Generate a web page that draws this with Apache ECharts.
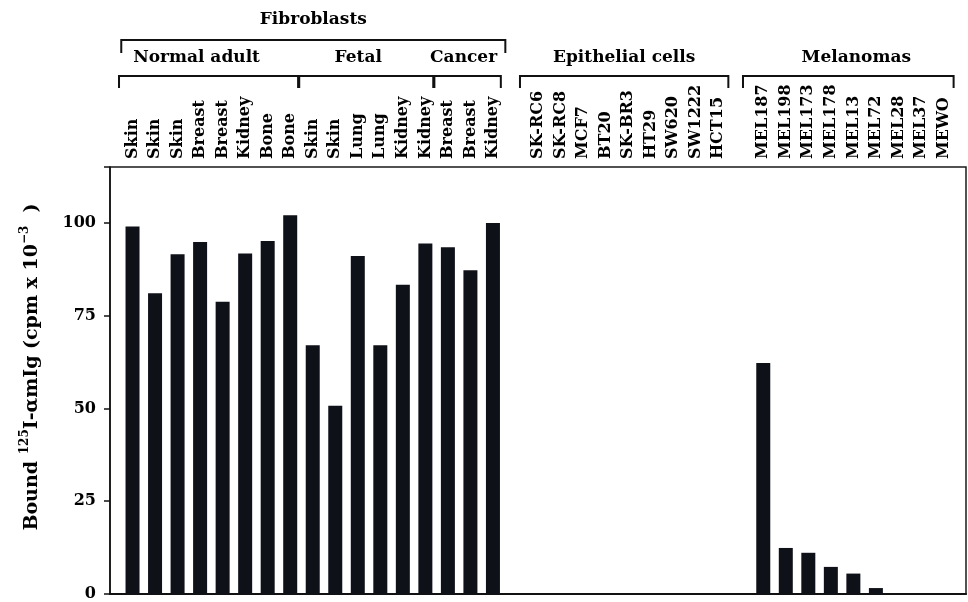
<!DOCTYPE html>
<html>
<head>
<meta charset="utf-8">
<script src="https://cdn.jsdelivr.net/npm/echarts@6/dist/echarts.min.js"></script>
<style>html,body{margin:0;padding:0;background:#fff;}#main{width:968px;height:602px;}</style>
</head>
<body>
<div id="main"></div>
<script>
// ---- data ----
const fibroNames = ['Skin','Skin','Skin','Breast','Breast','Kidney','Bone','Bone','Skin','Skin','Lung','Lung','Kidney','Kidney','Breast','Breast','Kidney'];
const fibroValues = [99, 81, 91.5, 94.8, 78.7, 91.7, 95.1, 102, 67, 50.7, 91, 67, 83.3, 94.4, 93.4, 87.2, 99.9];
const fibroSubgroups = [['Normal adult', 8], ['Fetal', 6], ['Cancer', 3]];
const epiNames = ['SK-RC6','SK-RC8','MCF7','BT20','SK-BR3','HT29','SW620','SW1222','HCT15'];
const epiValues = [0, 0, 0, 0, 0, 0, 0, 0, 0];
const melNames = ['MEL187','MEL198','MEL173','MEL178','MEL13','MEL72','MEL28','MEL37','MEWO'];
const melValues = [62.2, 12.4, 11.1, 7.3, 5.5, 1.6, 0, 0, 0];
const yTicks = [0, 25, 50, 75, 100];
const groupTitles = ['Fibroblasts', 'Epithelial cells', 'Melanomas'];

// ---- build slots (one empty slot between groups and at both ends) ----
const names = [''];
const barData = [];
const groupRanges = [];
[[fibroNames, fibroValues], [epiNames, epiValues], [melNames, melValues]].forEach(([ns, vs]) => {
  const start = names.length;
  ns.forEach((n, i) => { barData.push([names.length, vs[i]]); names.push(n); });
  groupRanges.push([start, names.length - 1]);
  names.push('');
});
const xMax = names.length - 1;

const FONT = 'DejaVu Serif';
const chart = echarts.init(document.getElementById('main'));
chart.setOption({
  animation: false,
  backgroundColor: '#fff',
  grid: { left: 110, right: 2, top: 167, bottom: 5, show: true, borderColor: '#1a1a1a', borderWidth: 1.5, containLabel: false },
  xAxis: [
    { type: 'value', position: 'bottom', min: 0, max: xMax, interval: 1,
      axisLine: { show: true, lineStyle: { color: '#111', width: 2 } },
      axisTick: { show: false }, axisLabel: { show: false }, splitLine: { show: false } },
    { type: 'value', position: 'top', min: 0, max: xMax, interval: 1,
      axisLine: { show: false }, axisTick: { show: false }, splitLine: { show: false },
      axisLabel: { show: true, rotate: -90, margin: 8, color: '#000', fontFamily: FONT, fontWeight: 'bold', fontSize: 16,
        formatter: v => names[Math.round(v)] || '' } }
  ],
  yAxis: {
    type: 'value', min: 0, max: 115, interval: 25,
    axisLine: { show: true, lineStyle: { color: '#111', width: 1.5 } },
    axisTick: { show: true, length: 6, lineStyle: { color: '#111', width: 1.5 } },
    splitLine: { show: false },
    axisLabel: { color: '#000', fontFamily: FONT, fontWeight: 'bold', fontSize: 16, margin: 14,
      formatter: v => yTicks.indexOf(v) >= 0 ? String(v) : '' }
  },
  series: [{
    type: 'bar', xAxisIndex: 0, yAxisIndex: 0, data: barData, barWidth: 14,
    itemStyle: { color: '#0f1119' }
  }]
});

// ---- brackets & group titles via axis conversion ----
function px(v) { return chart.convertToPixel({ xAxisIndex: 0 }, v); }
const graphics = [];
function bracket(x0, x1, yLine, yLeg, label, yText, textShift) {
  graphics.push({ type: 'polyline', silent: true,
    shape: { points: [[x0, yLeg], [x0, yLine], [x1, yLine], [x1, yLeg]] },
    style: { stroke: '#111', lineWidth: 2, fill: null } });
  graphics.push({ type: 'text', silent: true, x: (x0 + x1) / 2 + (textShift || 0), y: yText,
    style: { text: label, fill: '#000', font: 'bold 17px "' + FONT + '"', textAlign: 'center', textVerticalAlign: 'middle' } });
}
const L0 = -0.6, L1 = 0.45;
const fr = groupRanges[0];
bracket(px(fr[0] + L0 + 0.1), px(fr[1] + L1 + 0.1), 40, 53, groupTitles[0], 20);
let idx = fr[0];
const subShift = [-12, -8, -4];
fibroSubgroups.forEach(([label, n], k) => {
  bracket(px(idx + L0), px(idx + n - 1 + L1 - 0.1), 76, 88, label, 58, subShift[k]);
  idx += n;
});
bracket(px(groupRanges[1][0] + L0 - 0.2), px(groupRanges[1][1] + L1), 76, 88, groupTitles[1], 58);
bracket(px(groupRanges[2][0] + L0 - 0.3), px(groupRanges[2][1] + L1), 76, 88, groupTitles[2], 58, 8);

// y axis title with superscripts
graphics.push({ type: 'text', silent: true, x: 32, y: 367, rotation: Math.PI / 2,
  style: {
    text: '{a|Bound}  {s|125}{a|I-αmIg (cpm x 10}{s|−3}{a|  )}',
    textAlign: 'center', textVerticalAlign: 'middle',
    rich: {
      a: { fontFamily: FONT, fontWeight: 'bold', fontSize: 19, lineHeight: 27, fill: '#000' },
      s: { fontFamily: FONT, fontWeight: 'bold', fontSize: 12, lineHeight: 14, verticalAlign: 'top', fill: '#000' }
    }
  } });
chart.setOption({ graphic: graphics });
</script>
</body>
</html>
